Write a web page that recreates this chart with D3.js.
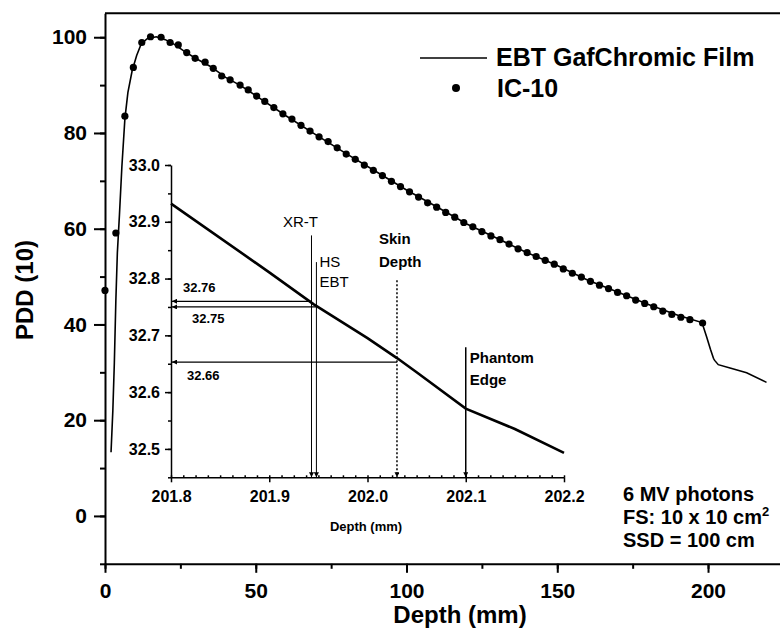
<!DOCTYPE html>
<html>
<head>
<meta charset="utf-8">
<script src="https://cdn.jsdelivr.net/npm/d3@7"></script>
<style>
  body { margin: 0; background: #fff; }
  text { font-family: "Liberation Sans", Arial, sans-serif; }
  .inset-tick text { font-weight: bold; font-size: 16px; }
</style>
</head>
<body>
<div id="canvas"></div>
<script>
// IC-10 chamber readings (depth mm, PDD)
const icDepth = [0, 3.6, 6.6, 9.4, 12.2, 15.1, 18.6, 21.6, 24.3, 27.1, 29.9, 33.2, 35.9, 38.7, 41.5, 44.8, 47.5, 50.3,
  53, 56, 59, 62, 65, 68, 71, 74, 77, 80, 83, 86, 89, 92, 95, 98, 101, 104, 107, 110, 113, 116, 119, 122, 125, 128,
  131, 134, 137, 140, 143, 146, 149, 152, 155, 158, 161, 164, 167, 170, 173, 176, 179, 182, 185, 188, 191, 194, 198.2];
const icPdd = [47.1, 59.1, 83.5, 93.7, 98.9, 100.1, 100.0, 98.9, 98.4, 96.8, 95.6, 94.8, 93.5, 91.9, 91.1, 90.0, 89.0, 87.7,
  86.6, 85.3, 84.0, 82.9, 81.6, 80.4, 79.2, 78.2, 76.9, 75.6, 74.5, 73.3, 72.2, 71.1, 69.9, 68.8, 67.7, 66.6, 65.4, 64.5,
  63.4, 62.4, 61.3, 60.4, 59.4, 58.5, 57.7, 56.8, 55.8, 55.0, 54.2, 53.4, 52.6, 51.6, 50.7, 49.9, 49.0, 48.2, 47.5, 46.7,
  46.0, 45.1, 44.4, 43.7, 42.8, 42.1, 41.5, 41.0, 40.3];

// EBT film curve
const filmDepth = [2.0, 2.6, 3.1, 3.6, 4.1, 4.8, 5.6, 6.6, 7.6, 9.0, 10.5, 12.0, 14, 17, 20, 23, 26, 30, 35, 40, 45, 50,
  60, 70, 80, 90, 100, 110, 120, 130, 140, 150, 160, 170, 180, 190, 198, 199.5, 200.8, 201.8, 202.0, 202.2, 203.4,
  207.3, 212.8, 219.4];
const filmPdd = [13.3, 22, 32, 45, 55, 63, 73, 83, 88.5, 93, 96.2, 98.6, 99.7, 100.1, 99.5, 98.5, 97.2, 95.6, 93.9, 91.6,
  89.9, 87.8, 83.6, 79.6, 75.7, 71.9, 68.1, 64.6, 61.0, 58.0, 55.0, 52.3, 49.3, 46.8, 44.2, 41.9, 40.4, 37.5, 34.8,
  32.93, 32.70, 32.49, 31.6, 30.9, 29.9, 27.9];

// inset: film curve near the phantom edge
const insetDepth = [201.8, 201.9, 201.945, 202.0, 202.03, 202.05, 202.1, 202.15, 202.2];
const insetPdd = [32.932, 32.811, 32.755, 32.695, 32.66, 32.635, 32.571, 32.535, 32.493];

const xTicks = [0, 50, 100, 150, 200];
const yTicks = [0, 20, 40, 60, 80, 100];
const insetXTicks = [201.8, 201.9, 202.0, 202.1, 202.2];
const insetYTicks = [32.5, 32.6, 32.7, 32.8, 32.9, 33.0];

// inset annotations
const markDepth = [201.943, 201.948, 202.030, 202.10];
const markTop = [32.876, 32.829, 32.797, 32.679];
const arrowVal = [32.76, 32.75, 32.653];
const arrowFrom = [201.943, 201.948, 202.030];
const arrowLabel = ["32.76", "32.75", "32.66"];

const width = 780, height = 641;

const x = d3.scaleLinear().domain([0, 225]).range([105, 783.4]);
const y = d3.scaleLinear().domain([-10, 105]).range([563.8, 13.3]);

const xi = d3.scaleLinear().domain([201.8, 202.2]).range([171, 564]);
const yi = d3.scaleLinear().domain([32.45, 33.0]).range([477.3, 165]);

const svg = d3.select("#canvas").append("svg")
    .attr("width", width)
    .attr("height", height)
    .attr("viewBox", [0, 0, width, height]);

// main axes
svg.append("g")
    .attr("transform", `translate(0,${y(-10)})`)
    .call(d3.axisBottom(x).tickValues(d3.range(0, 226, 25)).tickSize(5).tickFormat(""))
    .call(g => g.select(".domain").remove())
    .call(g => g.selectAll("line").attr("stroke-width", 2));

svg.append("g")
    .attr("transform", `translate(0,${y(-10)})`)
    .call(d3.axisBottom(x).tickValues(xTicks).tickSize(9).tickPadding(10).tickSizeOuter(0))
    .call(g => g.select(".domain").attr("stroke-width", 2))
    .call(g => g.selectAll("line").attr("stroke-width", 2))
    .call(g => g.selectAll("text").attr("font-size", 21).attr("font-weight", "bold"));

svg.append("g")
    .attr("transform", `translate(${x(0)},0)`)
    .call(d3.axisLeft(y).tickValues(d3.range(-10, 101, 10)).tickSize(5).tickFormat(""))
    .call(g => g.select(".domain").remove())
    .call(g => g.selectAll("line").attr("stroke-width", 2));

svg.append("g")
    .attr("transform", `translate(${x(0)},0)`)
    .call(d3.axisLeft(y).tickValues(yTicks).tickSize(11).tickPadding(7).tickSizeOuter(0))
    .call(g => g.select(".domain").attr("stroke-width", 2))
    .call(g => g.selectAll("line").attr("stroke-width", 2))
    .call(g => g.selectAll("text").attr("font-size", 21).attr("font-weight", "bold"));

// top frame
svg.append("line")
    .attr("x1", x(0)).attr("x2", x(225))
    .attr("y1", y(105)).attr("y2", y(105))
    .attr("stroke", "black").attr("stroke-width", 2);

svg.append("text")
    .attr("x", 460).attr("y", 623)
    .attr("text-anchor", "middle")
    .attr("font-size", 24).attr("font-weight", "bold")
    .text("Depth (mm)");

svg.append("text")
    .attr("transform", "translate(33,290) rotate(-90)")
    .attr("text-anchor", "middle")
    .attr("font-size", 24).attr("font-weight", "bold")
    .text("PDD (10)");

// film line
const film = filmDepth.map((d, i) => [d, filmPdd[i]]);
svg.append("path")
    .datum(film)
    .attr("fill", "none")
    .attr("stroke", "black")
    .attr("stroke-width", 1.6)
    .attr("d", d3.line().x(d => x(d[0])).y(d => y(d[1])));

// IC-10 dots
svg.append("g")
    .selectAll("circle")
    .data(icDepth.map((d, i) => [d, icPdd[i]]))
    .join("circle")
        .attr("cx", d => x(d[0]))
        .attr("cy", d => y(d[1]))
        .attr("r", 3.6)
        .attr("fill", "black");

// legend
svg.append("line")
    .attr("x1", 420).attr("x2", 487).attr("y1", 58).attr("y2", 58)
    .attr("stroke", "black").attr("stroke-width", 1.6);
svg.append("text")
    .attr("x", 496).attr("y", 66)
    .attr("font-size", 25).attr("font-weight", "bold")
    .text("EBT GafChromic Film");
svg.append("circle")
    .attr("cx", 456).attr("cy", 88).attr("r", 4).attr("fill", "black");
svg.append("text")
    .attr("x", 497).attr("y", 97)
    .attr("font-size", 25).attr("font-weight", "bold")
    .text("IC-10");

// beam info
const info = svg.append("g").attr("font-size", 20).attr("font-weight", "bold");
info.append("text").attr("x", 623).attr("y", 501).text("6 MV photons");
const fs = info.append("text").attr("x", 623).attr("y", 524);
fs.append("tspan").text("FS: 10 x 10 cm");
fs.append("tspan").attr("font-size", 13).attr("dy", -8).text("2");
info.append("text").attr("x", 623).attr("y", 547).text("SSD = 100 cm");

// ---- inset ----
const defs = svg.append("defs");
defs.append("marker")
    .attr("id", "arrow")
    .attr("viewBox", "0 0 10 10")
    .attr("refX", 10).attr("refY", 5)
    .attr("markerWidth", 6).attr("markerHeight", 5)
    .attr("markerUnits", "userSpaceOnUse")
    .attr("orient", "auto")
  .append("path")
    .attr("d", "M0,0L10,5L0,10Z")
    .attr("fill", "black");

const inset = svg.append("g");

inset.append("g")
    .attr("transform", `translate(0,${yi(32.45)})`)
    .call(d3.axisBottom(xi).tickValues(d3.range(201.8, 202.2001, 0.0125)).tickSize(-2).tickFormat(""))
    .call(g => g.select(".domain").remove())
    .call(g => g.selectAll("line").attr("stroke-width", 1.5));

inset.append("g")
    .attr("class", "inset-tick")
    .attr("transform", `translate(0,${yi(32.45)})`)
    .call(d3.axisBottom(xi).tickValues(insetXTicks).tickSize(5).tickPadding(8).tickSizeOuter(0)
        .tickFormat(d3.format(".1f")))
    .call(g => g.select(".domain").attr("stroke-width", 1.5))
    .call(g => g.selectAll("line").attr("stroke-width", 1.5));

inset.append("g")
    .attr("transform", `translate(${xi(201.8)},0)`)
    .call(d3.axisLeft(yi).tickValues(d3.range(32.45, 33.0001, 0.05)).tickSize(3).tickFormat(""))
    .call(g => g.select(".domain").remove())
    .call(g => g.selectAll("line").attr("stroke-width", 1.5));

inset.append("g")
    .attr("class", "inset-tick")
    .attr("transform", `translate(${xi(201.8)},0)`)
    .call(d3.axisLeft(yi).tickValues(insetYTicks).tickSize(6).tickPadding(5).tickSizeOuter(0)
        .tickFormat(d3.format(".1f")))
    .call(g => g.select(".domain").attr("stroke-width", 1.5))
    .call(g => g.selectAll("line").attr("stroke-width", 1.5));

inset.append("text")
    .attr("x", 366).attr("y", 531)
    .attr("text-anchor", "middle")
    .attr("font-size", 13).attr("font-weight", "bold")
    .text("Depth (mm)");

inset.append("path")
    .datum(insetDepth.map((d, i) => [d, insetPdd[i]]))
    .attr("fill", "none")
    .attr("stroke", "black")
    .attr("stroke-width", 2.6)
    .attr("d", d3.line().x(d => xi(d[0])).y(d => yi(d[1])));

// vertical markers
const markStyle = [
  {w: 1, dash: null}, {w: 1, dash: null}, {w: 1.5, dash: "2,2"}, {w: 1.5, dash: null}
];
inset.append("g")
    .selectAll("line")
    .data(markDepth)
    .join("line")
        .attr("x1", d => xi(d)).attr("x2", d => xi(d))
        .attr("y1", (d, i) => yi(markTop[i]))
        .attr("y2", yi(32.45))
        .attr("stroke", "black")
        .attr("stroke-width", (d, i) => markStyle[i].w)
        .attr("stroke-dasharray", (d, i) => markStyle[i].dash)
        .attr("marker-end", "url(#arrow)");

// horizontal arrows
inset.append("g")
    .selectAll("line")
    .data(arrowVal)
    .join("line")
        .attr("x1", (d, i) => xi(arrowFrom[i]))
        .attr("x2", xi(201.8) + 1)
        .attr("y1", d => yi(d)).attr("y2", d => yi(d))
        .attr("stroke", "black")
        .attr("stroke-width", 1.2)
        .attr("marker-end", "url(#arrow)");

const arrowLabelPos = [{dx: 12, dy: -9}, {dx: 21, dy: 16}, {dx: 16, dy: 18}];
inset.append("g")
    .selectAll("text")
    .data(arrowVal)
    .join("text")
        .attr("x", (d, i) => xi(201.8) + arrowLabelPos[i].dx)
        .attr("y", (d, i) => yi(d) + arrowLabelPos[i].dy)
        .attr("font-size", 13).attr("font-weight", "bold")
        .text((d, i) => arrowLabel[i]);

// marker labels
const mx = markDepth.map(d => xi(d));
const mt = markTop.map(d => yi(d));
inset.append("text").attr("x", mx[0] - 11).attr("y", mt[0] - 8)
    .attr("text-anchor", "middle").attr("font-size", 15).text("XR-T");
inset.append("text").attr("x", mx[1] + 3).attr("y", mt[1] + 5)
    .attr("font-size", 15).text("HS");
inset.append("text").attr("x", mx[1] + 3).attr("y", mt[1] + 25)
    .attr("font-size", 15).text("EBT");
inset.append("text").attr("x", mx[2] - 18).attr("y", mt[2] - 36)
    .attr("font-size", 15).attr("font-weight", "bold").text("Skin");
inset.append("text").attr("x", mx[2] - 18).attr("y", mt[2] - 13)
    .attr("font-size", 15).attr("font-weight", "bold").text("Depth");
inset.append("text").attr("x", mx[3] + 4).attr("y", mt[3] + 16)
    .attr("font-size", 15).attr("font-weight", "bold").text("Phantom");
inset.append("text").attr("x", mx[3] + 4).attr("y", mt[3] + 38)
    .attr("font-size", 15).attr("font-weight", "bold").text("Edge");
</script>
</body>
</html>
